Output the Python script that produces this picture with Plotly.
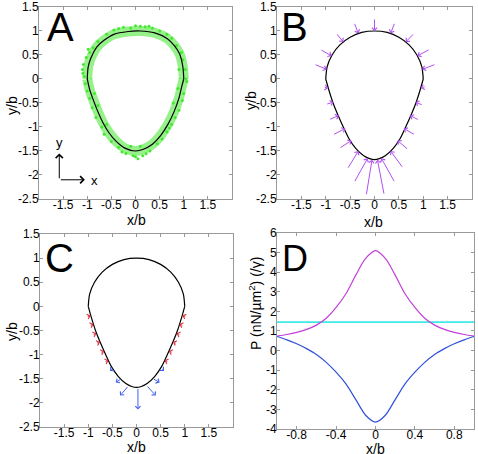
import plotly.graph_objects as go

# ---------------- data ----------------
# Panel A: measured outline (black fit) and green data band
A_UP_X = [1.0, 0.98, 0.91, 0.80, 0.66, 0.40, 0.10, -0.15, -0.45, -0.66, -0.80, -0.92, -0.98, -1.0]
A_UP_Y = [0.0, 0.26, 0.53, 0.70, 0.84, 0.96, 1.0, 0.99, 0.93, 0.80, 0.67, 0.45, 0.26, 0.0]
A_LO_X = [-1.0, -0.95, -0.87, -0.78, -0.68, -0.55, -0.40, -0.22, 0.0, 0.15, 0.35, 0.52, 0.68, 0.80, 0.90, 0.96, 1.0]
A_LO_Y = [0.0, -0.22, -0.45, -0.68, -0.90, -1.12, -1.30, -1.44, -1.50, -1.47, -1.36, -1.18, -0.93, -0.68, -0.40, -0.15, 0.0]
GREEN_X = [-0.25, 0.10, 0.20, -0.10, 0.35, 0.50, -0.45, -0.60, 0.65, 0.75, 0.0, -0.35, 0.28,
           -0.78, -0.88, -0.95, -1.02, -1.08, -1.10, -1.06, -1.04, -1.00, -0.95, -0.85, -0.90, -0.78, -0.82, -0.70, -0.60, -0.65, -1.09, -0.98,
           -0.50, -0.35, -0.20, -0.05, 0.05, 0.15, 0.30, -0.10, 0.10, 0.45, 0.55, 0.0, -0.28, 0.22,
           0.65, 0.75, 0.82, 0.90, 0.97, 1.00, 1.05, 1.03, 0.98, 0.95, 0.85, 0.78, 0.88, 0.90, 1.06, 0.70]
GREEN_Y = [1.08, 1.10, 1.09, 1.06, 1.06, 1.00, 1.02, 0.93, 0.93, 0.85, 1.11, 1.05, 1.10,
           0.78, 0.65, 0.55, 0.45, 0.30, 0.20, 0.05, -0.10, -0.25, -0.40, -0.30, -0.60, -0.55, -0.80, -1.00, -0.95, -1.15, 0.12, 0.62,
           -1.30, -1.42, -1.55, -1.60, -1.66, -1.60, -1.50, -1.40, -1.40, -1.35, -1.25, -1.62, -1.52, -1.56,
           -1.10, -0.95, -0.80, -0.65, -0.45, -0.30, 0.00, 0.20, 0.40, 0.55, 0.70, -0.50, -0.20, 0.20, -0.05, -1.02]

# Model outline (panels B, C)
UP_X = [1.0, 0.97, 0.87, 0.71, 0.50, 0.26, 0.0, -0.26, -0.50, -0.71, -0.87, -0.97, -1.0]
UP_Y = [0.0, 0.26, 0.50, 0.71, 0.87, 0.97, 1.0, 0.97, 0.87, 0.71, 0.50, 0.26, 0.0]
LO_X = [-1.0, -0.93, -0.85, -0.75, -0.64, -0.52, -0.38, -0.22, -0.10, 0.0, 0.10, 0.22, 0.38, 0.52, 0.64, 0.75, 0.85, 0.93, 1.0]
LO_Y = [0.0, -0.25, -0.50, -0.75, -1.00, -1.25, -1.45, -1.60, -1.66, -1.68, -1.66, -1.60, -1.45, -1.25, -1.00, -0.75, -0.50, -0.25, 0.0]

# Panel B: force arrows (tail -> tip)
B_TAIL_X = [0.0, -0.42, 0.42, -0.79, 0.82, -1.12, 1.14, -1.24, 1.26, -1.05, 1.06, -1.00, 1.00, -0.94, 0.92, -0.86, 0.84, -0.73, 0.70, -0.56, 0.59, -0.42, 0.42, -0.17, 0.20]
B_TAIL_Y = [1.27, 1.18, 1.18, 0.96, 0.96, 0.62, 0.62, 0.31, 0.31, -0.17, -0.15, -0.53, -0.55, -0.85, -0.86, -1.17, -1.17, -1.45, -1.48, -1.88, -1.86, -2.16, -2.16, -2.43, -2.42]
B_TIP_X = [0.0, -0.33, 0.33, -0.64, 0.64, -0.88, 0.88, -0.98, 0.98, -0.95, 0.95, -0.84, 0.84, -0.73, 0.73, -0.60, 0.60, -0.47, 0.47, -0.33, 0.33, -0.14, 0.14, -0.05, 0.06]
B_TIP_Y = [1.0, 0.95, 0.95, 0.77, 0.77, 0.48, 0.48, 0.20, 0.20, -0.19, -0.19, -0.48, -0.48, -0.76, -0.76, -1.03, -1.03, -1.28, -1.28, -1.50, -1.50, -1.65, -1.65, -1.68, -1.68]

# Panel C: inward (red) and outward (blue) arrows
C_RED_TAIL_X = [-1.04, -0.98, -0.92, -0.845, -0.76, -0.67, 1.04, 0.98, 0.92, 0.845, 0.76, 0.67]
C_RED_TAIL_Y = [-0.22, -0.40, -0.59, -0.77, -0.96, -1.15, -0.22, -0.40, -0.59, -0.77, -0.96, -1.15]
C_RED_TIP_X = [-0.95, -0.89, -0.83, -0.755, -0.67, -0.58, 0.95, 0.89, 0.83, 0.755, 0.67, 0.58]
C_RED_TIP_Y = [-0.19, -0.37, -0.56, -0.74, -0.93, -1.12, -0.19, -0.37, -0.56, -0.74, -0.93, -1.12]
C_BLUE_TAIL_X = [-0.47, -0.30, -0.16, 0.03, 0.20, 0.33, 0.50]
C_BLUE_TAIL_Y = [-1.27, -1.49, -1.64, -1.68, -1.63, -1.49, -1.27]
C_BLUE_TIP_X = [-0.55, -0.43, -0.34, 0.03, 0.40, 0.48, 0.57]
C_BLUE_TIP_Y = [-1.34, -1.58, -1.85, -2.14, -1.85, -1.58, -1.34]

# Panel D: pressure profiles
D_X = [-1.0, -0.9, -0.8, -0.7, -0.6, -0.5, -0.4, -0.3, -0.2, -0.1, 0.0, 0.1, 0.2, 0.3, 0.4, 0.5, 0.6, 0.7, 0.8, 0.9, 1.0]
D_MAGENTA = [0.74, 0.82, 0.93, 1.08, 1.30, 1.65, 2.20, 2.90, 3.85, 4.70, 5.10, 4.70, 3.85, 2.90, 2.20, 1.65, 1.30, 1.08, 0.93, 0.82, 0.74]
D_BLUE = [0.72, 0.55, 0.35, 0.10, -0.20, -0.60, -1.10, -1.70, -2.50, -3.30, -3.65, -3.30, -2.50, -1.70, -1.10, -0.60, -0.20, 0.10, 0.35, 0.55, 0.72]
D_CYAN_X = [-1.0, 1.0]
D_CYAN_Y = [1.45, 1.45]

# Ticks
XT_SHAPE = [-1.5, -1, -0.5, 0, 0.5, 1, 1.5]
XT_SHAPE_TXT = ["-1.5", "-1", "-0.5", "0", "0.5", "1", "1.5"]
YT_SHAPE = [1.5, 1, 0.5, 0, -0.5, -1, -1.5, -2, -2.5]
YT_SHAPE_TXT = ["1.5", "1", "0.5", "0", "-0.5", "-1", "-1.5", "-2", "-2.5"]
XT_D = [-0.8, -0.4, 0, 0.4, 0.8]
XT_D_TXT = ["-0.8", "-0.4", "0", "0.4", "0.8"]
YT_D = [6, 5, 4, 3, 2, 1, 0, -1, -2, -3, -4]
YT_D_TXT = ["6", "5", "4", "3", "2", "1", "0", "-1", "-2", "-3", "-4"]

W, H = 478, 454

# ---------------- figure ----------------
FONT = "Liberation Sans, Arial, Helvetica, sans-serif"
fig = go.Figure()

def line(x, y, xa, ya, color, width=1.2, shape="spline"):
    fig.add_trace(go.Scatter(x=x, y=y, mode="lines", xaxis=xa, yaxis=ya,
                             line=dict(color=color, width=width, shape=shape, smoothing=0.8),
                             showlegend=False, hoverinfo="skip"))

# Panel A
line(A_UP_X, A_UP_Y, "x", "y", "rgba(80,232,60,0.6)", 10)
line(A_LO_X, A_LO_Y, "x", "y", "rgba(80,232,60,0.6)", 10)
fig.add_trace(go.Scatter(x=GREEN_X, y=GREEN_Y, mode="markers", xaxis="x", yaxis="y",
                         marker=dict(color="#44e830", size=3), showlegend=False, hoverinfo="skip"))
line(A_UP_X, A_UP_Y, "x", "y", "black", 1.2)
line(A_LO_X, A_LO_Y, "x", "y", "black", 1.2)

# Panels B, C outline
for xa, ya in (("x2", "y2"), ("x3", "y3")):
    line(UP_X, UP_Y, xa, ya, "black", 1.2)
    line(LO_X, LO_Y, xa, ya, "black", 1.2)

# Panel D
line(D_CYAN_X, D_CYAN_Y, "x4", "y4", "#40e8e8", 1.6, "linear")
line(D_X, D_MAGENTA, "x4", "y4", "#c040d8", 1.2)
line(D_X, D_BLUE, "x4", "y4", "#3050d8", 1.2)

annotations = []

def arrows(tx, ty, hx, hy, xref, yref, color, size, head=4):
    for a, b, c, d in zip(tx, ty, hx, hy):
        annotations.append(dict(x=c, y=d, ax=a, ay=b, xref=xref, yref=yref,
                                axref=xref, ayref=yref, showarrow=True, text="",
                                arrowhead=head, arrowsize=size, arrowwidth=1,
                                arrowcolor=color, standoff=0))

arrows(B_TAIL_X, B_TAIL_Y, B_TIP_X, B_TIP_Y, "x2", "y2", "#b050f0", 1.0)
arrows(C_RED_TAIL_X, C_RED_TAIL_Y, C_RED_TIP_X, C_RED_TIP_Y, "x3", "y3", "#e03040", 1.0)
arrows(C_BLUE_TAIL_X, C_BLUE_TAIL_Y, C_BLUE_TIP_X, C_BLUE_TIP_Y, "x3", "y3", "#4060f0", 1.0)

# coordinate legend in A
arrows([-1.58, -1.58], [-2.1, -2.1], [-1.58, -1.05], [-1.55, -2.1], "x", "y", "black", 1.4)
annotations.append(dict(x=-1.58, y=-1.33, xref="x", yref="y", text="y", showarrow=False,
                        font=dict(size=13, family=FONT, color="black")))
annotations.append(dict(x=-0.86, y=-2.12, xref="x", yref="y", text="x", showarrow=False,
                        font=dict(size=13, family=FONT, color="black")))

# panel letters
for lab, x, y, xr, yr, s in (("A", -1.56, 1.09, "x", "y", 40), ("B", -1.65, 1.08, "x2", "y2", 40),
                             ("C", -1.59, 1.0, "x3", "y3", 40), ("D", -0.82, 4.72, "x4", "y4", 36)):
    annotations.append(dict(x=x, y=y, xref=xr, yref=yr, text=lab, showarrow=False,
                            font=dict(size=s, family=FONT, color="black")))

# axis titles (pixel centres from the reference)
TITLE_FONT = dict(size=14, family=FONT, color="black")
for txt, px, py, rot in (("x/b", 136, 220, 0), ("y/b", 12, 106, -90),
                         ("x/b", 373, 222, 0), ("y/b", 251, 100, -90),
                         ("x/b", 136, 447, 0), ("y/b", 12, 332, -90),
                         ("x/b", 375, 448.5, 0), ("P (nN/µm<sup>2</sup>) (/γ)", 255, 304, -90)):
    annotations.append(dict(x=px / W, y=1 - py / H, xref="paper", yref="paper", text=txt,
                            showarrow=False, textangle=rot, font=TITLE_FONT,
                            xanchor="center", yanchor="middle"))

axis_common = dict(showline=True, linecolor="#999999", linewidth=1, mirror="ticks",
                   ticks="inside", ticklen=3, tickcolor="#999999", showgrid=False,
                   zeroline=False, tickfont=dict(size=12, family=FONT, color="black"),
                   automargin=False)

def xax(dom, anchor, rng, tv, tt):
    return dict(axis_common, domain=dom, anchor=anchor, range=rng, tickvals=tv, ticktext=tt,
                ticklabelstandoff=-5)

def yax(dom, anchor, rng, tv, tt):
    return dict(axis_common, domain=dom, anchor=anchor, range=rng, tickvals=tv, ticktext=tt,
                ticklabelstandoff=-3)

fig.update_layout(
    width=W, height=H, margin=dict(l=0, r=0, t=0, b=0),
    paper_bgcolor="white", plot_bgcolor="white",
    xaxis=xax([0.0816, 0.4854], "y", [-2, 2], XT_SHAPE, XT_SHAPE_TXT),
    yaxis=yax([0.5617, 0.9846], "x", [-2.5, 1.5], YT_SHAPE, YT_SHAPE_TXT),
    xaxis2=xax([0.5795, 0.9874], "y2", [-2, 2], XT_SHAPE, XT_SHAPE_TXT),
    yaxis2=yax([0.5617, 0.9846], "x2", [-2.5, 1.5], YT_SHAPE, YT_SHAPE_TXT),
    xaxis3=xax([0.0837, 0.4874], "y3", [-2, 2], XT_SHAPE, XT_SHAPE_TXT),
    yaxis3=yax([0.0595, 0.4846], "x3", [-2.5, 1.5], YT_SHAPE, YT_SHAPE_TXT),
    xaxis4=xax([0.5795, 0.9916], "y4", [-1, 1], XT_D, XT_D_TXT),
    yaxis4=yax([0.0551, 0.4868], "x4", [-4, 6], YT_D, YT_D_TXT),
    annotations=annotations,
    font=dict(family=FONT),
)

fig.write_html("out.html", config={"displayModeBar": False},
               post_script="document.body.style.margin='0';document.body.style.overflow='hidden';")
